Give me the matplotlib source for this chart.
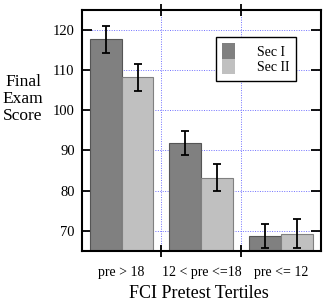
import matplotlib
matplotlib.use("Agg")
import matplotlib.pyplot as plt
import numpy as np
from matplotlib.ticker import FixedLocator

categories = ["pre > 18", "12 < pre <=18", "pre <= 12"]
sec1 = [117.7, 91.8, 68.8]
sec1_err = [3.3, 3.0, 3.0]
sec2 = [108.2, 83.2, 69.3]
sec2_err = [3.4, 3.4, 3.6]
series_names = ["Sec I", "Sec II"]
yticks = [70, 80, 90, 100, 110, 120]

plt.rcParams['font.family'] = ['Liberation Serif', 'DejaVu Serif']

fig = plt.figure(figsize=(3.24, 3.04), dpi=100)
ax = fig.add_axes([0.252, 0.175, 0.739, 0.792])

x = np.arange(len(categories)) + 0.5
w = 0.4
ax.set_axisbelow(True)
ax.bar(x - w/2, sec1, w, color='#808080', edgecolor='#555555', linewidth=0.8, label=series_names[0], zorder=2)
ax.bar(x + w/2, sec2, w, color='#c0c0c0', edgecolor='#808080', linewidth=0.8, label=series_names[1], zorder=2)
ax.errorbar(x - w/2, sec1, yerr=sec1_err, fmt='none', ecolor='black', elinewidth=1.3, capsize=3, capthick=1.3, zorder=3)
ax.errorbar(x + w/2, sec2, yerr=sec2_err, fmt='none', ecolor='black', elinewidth=1.3, capsize=3, capthick=1.3, zorder=3)

ax.set_xlim(0, len(categories))
ax.set_ylim(65, 125)
ax.set_yticks(yticks)
ax.set_xticks(x)
ax.set_xticklabels(categories, fontsize=10)
ax.xaxis.set_minor_locator(FixedLocator([1, 2]))
ax.tick_params(axis='x', which='major', length=0, pad=11)
ax.tick_params(axis='x', which='minor', direction='inout', length=8, width=1.3, top=True, bottom=True)
ax.tick_params(axis='y', which='major', direction='in', length=7, width=1.3, left=True, right=True, labelsize=10.5, pad=5)

for s in ax.spines.values():
    s.set_linewidth(1.5)

ax.grid(True, axis='y', which='major', color='#7070ff', linestyle=(0, (1, 1.5)), linewidth=0.7, zorder=0)
ax.grid(True, axis='x', which='minor', color='#7070ff', linestyle=(0, (1, 1.5)), linewidth=0.7, zorder=0)

leg = ax.legend(loc='upper left', bbox_to_anchor=(0.561, 0.888),
                fontsize=10, frameon=True, fancybox=False, handlelength=0.9, handleheight=1.35,
                handletextpad=1.6, borderpad=0.45, labelspacing=0.0, borderaxespad=0)
leg.get_frame().set_edgecolor('black')
leg.get_frame().set_linewidth(1.0)
leg.get_frame().set_alpha(1.0)
for p in leg.get_patches():
    p.set_edgecolor('none')

fig.text(0.071, 0.674, "Final\nExam\nScore", ha='center', va='center', fontsize=12.5, linespacing=1.1)
fig.text(0.615, 0.033, "FCI Pretest Tertiles", ha='center', va='center', fontsize=13)

fig.savefig("out.png", dpi=100)
